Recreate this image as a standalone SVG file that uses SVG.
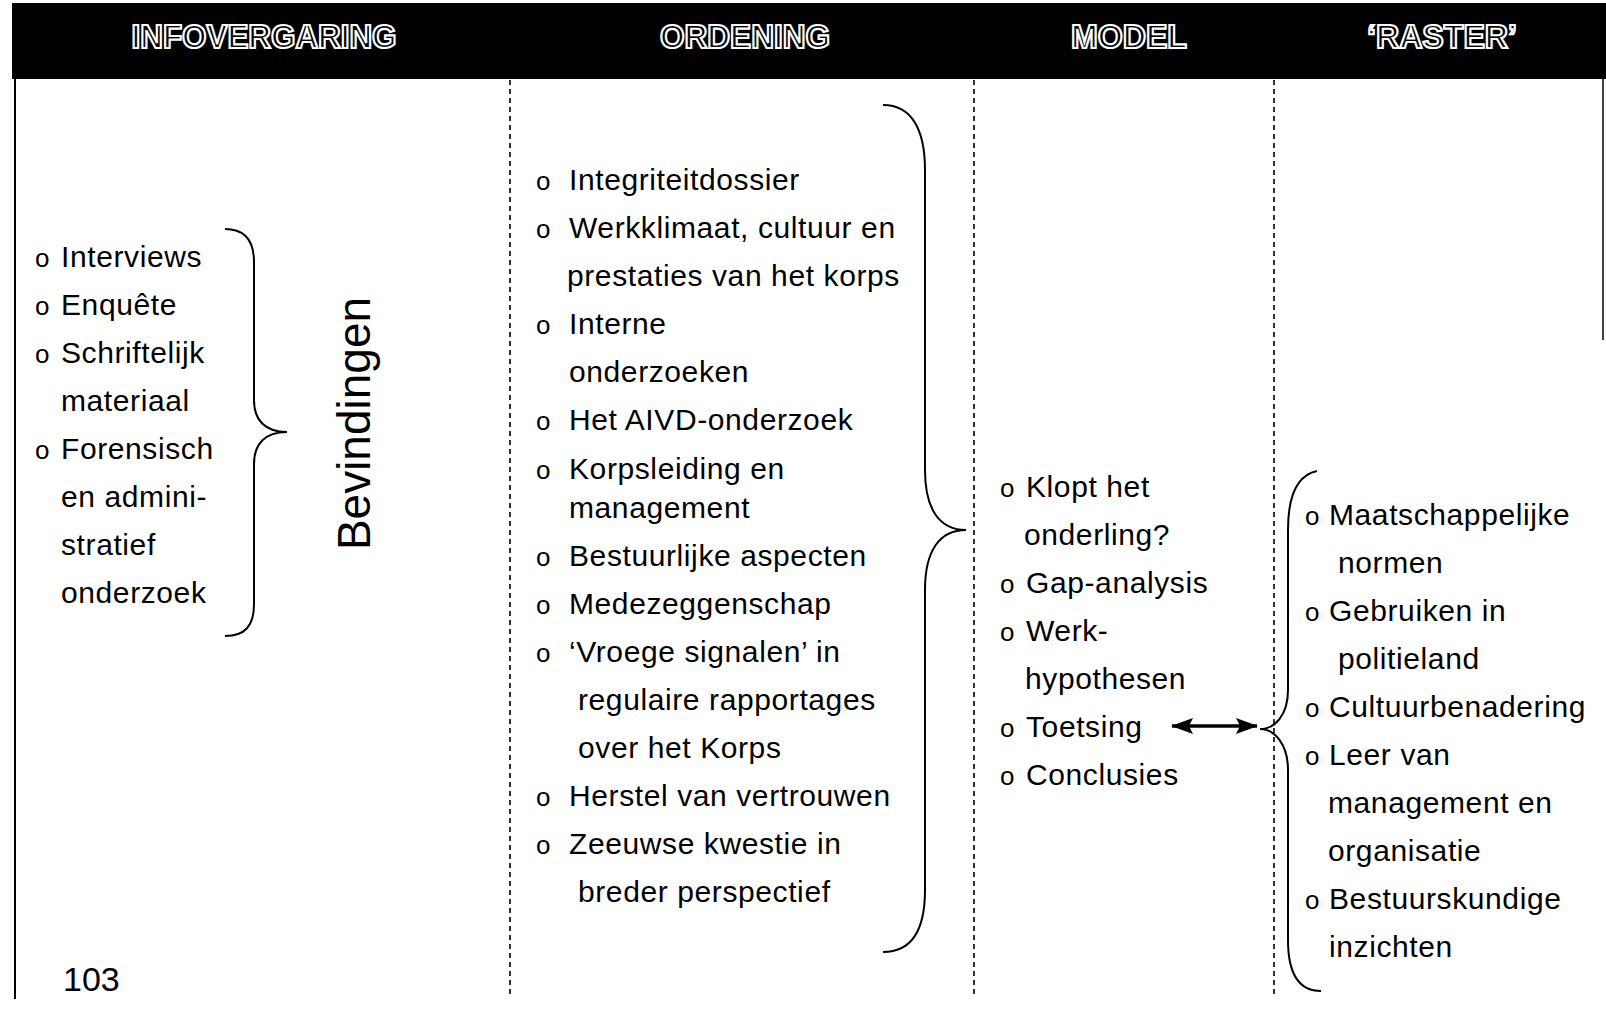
<svg xmlns="http://www.w3.org/2000/svg" width="1606" height="1029" viewBox="0 0 1606 1029">
<style>
.hd{font-family:"Liberation Sans",Arial,sans-serif;font-weight:bold;font-size:33px;fill:#000;stroke:#fff;stroke-width:2.2px;text-anchor:middle}
.t{font-family:"Liberation Sans",Arial,sans-serif;font-size:30px;letter-spacing:0.6px;fill:#000}
.b{font-family:"Liberation Sans",Arial,sans-serif;font-size:26px;fill:#000}
.br{fill:none;stroke:#000;stroke-width:2}
.dl{stroke:#000;stroke-width:1.6;stroke-dasharray:5 4}
</style>
<defs>
<marker id="ah" viewBox="0 0 22 16" refX="21" refY="8" markerWidth="22" markerHeight="16" orient="auto-start-reverse" markerUnits="userSpaceOnUse">
<path d="M0,0 L22,8 L0,16 L4,8 Z" fill="#000"/>
</marker>
</defs>
<rect width="1606" height="1029" fill="#fff"/>
<g id="header">
<rect x="12" y="3" width="1594" height="76" fill="#000"/>
<text class="hd" x="264" y="48" textLength="265" lengthAdjust="spacingAndGlyphs">INFOVERGARING</text>
<text class="hd" x="745" y="48" textLength="170" lengthAdjust="spacingAndGlyphs">ORDENING</text>
<text class="hd" x="1129" y="48" textLength="116" lengthAdjust="spacingAndGlyphs">MODEL</text>
<text class="hd" x="1442" y="48" textLength="150" lengthAdjust="spacingAndGlyphs">‘RASTER’</text>
</g>
<g id="frame">
<line x1="15" y1="79" x2="15" y2="999" stroke="#000" stroke-width="2"/>
<line x1="1603" y1="79" x2="1603" y2="340" stroke="#000" stroke-width="1.5"/>
<line class="dl" x1="510" y1="80" x2="510" y2="994"/>
<line class="dl" x1="974" y1="80" x2="974" y2="994"/>
<line class="dl" x1="1274" y1="80" x2="1274" y2="994"/>
<text class="t" x="63" y="991" style="font-size:34px;letter-spacing:0">103</text>
</g>
<g id="infovergaring">
<text class="b" x="35" y="267">o</text><text class="t" x="61" y="267">Interviews</text>
<text class="b" x="35" y="315">o</text><text class="t" x="61" y="315">Enquête</text>
<text class="b" x="35" y="363">o</text><text class="t" x="61" y="363">Schriftelijk</text>
<text class="t" x="61" y="411">materiaal</text>
<text class="b" x="35" y="459">o</text><text class="t" x="61" y="459">Forensisch</text>
<text class="t" x="61" y="507">en admini-</text>
<text class="t" x="61" y="555">stratief</text>
<text class="t" x="61" y="603">onderzoek</text>
</g>
<g id="bevindingen">
<text class="t" x="370" y="423.5" transform="rotate(-90 370 423.5)" text-anchor="middle" style="font-size:46px;letter-spacing:0">Bevindingen</text>
</g>
<g id="ordening">
<text class="b" x="536" y="190">o</text><text class="t" x="569" y="190">Integriteitdossier</text>
<text class="b" x="536" y="238">o</text><text class="t" x="569" y="238">Werkklimaat, cultuur en</text>
<text class="t" x="567" y="286">prestaties van het korps</text>
<text class="b" x="536" y="334">o</text><text class="t" x="569" y="334">Interne</text>
<text class="t" x="569" y="382">onderzoeken</text>
<text class="b" x="536" y="430">o</text><text class="t" x="569" y="430">Het AIVD-onderzoek</text>
<text class="b" x="536" y="479">o</text><text class="t" x="569" y="479">Korpsleiding en</text>
<text class="t" x="569" y="518">management</text>
<text class="b" x="536" y="566">o</text><text class="t" x="569" y="566">Bestuurlijke aspecten</text>
<text class="b" x="536" y="614">o</text><text class="t" x="569" y="614">Medezeggenschap</text>
<text class="b" x="536" y="662">o</text><text class="t" x="569" y="662">‘Vroege signalen’ in</text>
<text class="t" x="578" y="710">regulaire rapportages</text>
<text class="t" x="578" y="758">over het Korps</text>
<text class="b" x="536" y="806">o</text><text class="t" x="569" y="806">Herstel van vertrouwen</text>
<text class="b" x="536" y="854">o</text><text class="t" x="569" y="854">Zeeuwse kwestie in</text>
<text class="t" x="578" y="902">breder perspectief</text>
</g>
<g id="model">
<text class="b" x="1000" y="497">o</text><text class="t" x="1026" y="497">Klopt het</text>
<text class="t" x="1024" y="545">onderling?</text>
<text class="b" x="1000" y="593">o</text><text class="t" x="1026" y="593">Gap-analysis</text>
<text class="b" x="1000" y="641">o</text><text class="t" x="1026" y="641">Werk-</text>
<text class="t" x="1025" y="689">hypothesen</text>
<text class="b" x="1000" y="737">o</text><text class="t" x="1026" y="737">Toetsing</text>
<text class="b" x="1000" y="785">o</text><text class="t" x="1026" y="785">Conclusies</text>
</g>
<g id="raster">
<text class="b" x="1305" y="525">o</text><text class="t" x="1329" y="525">Maatschappelijke</text>
<text class="t" x="1338" y="573">normen</text>
<text class="b" x="1305" y="621">o</text><text class="t" x="1329" y="621">Gebruiken in</text>
<text class="t" x="1338" y="669">politieland</text>
<text class="b" x="1305" y="717">o</text><text class="t" x="1329" y="717">Cultuurbenadering</text>
<text class="b" x="1305" y="765">o</text><text class="t" x="1329" y="765">Leer van</text>
<text class="t" x="1328" y="813">management en</text>
<text class="t" x="1328" y="861">organisatie</text>
<text class="b" x="1305" y="909">o</text><text class="t" x="1329" y="909">Bestuurskundige</text>
<text class="t" x="1329" y="957">inzichten</text>
</g>
<g id="connectors">
<path class="br" d="M225,229 C245,229 254,240 254,262 L254,400 C254,420 265,432 287,432 C265,432 254,444 254,464 L254,604 C254,626 245,636 225,636"/>
<path class="br" d="M883,105 C912,105 925,130 925,170 L925,470 C925,510 940,530 966,530 C940,530 925,550 925,590 L925,890 C925,930 912,952 883,952"/>
<path class="br" d="M1317,471 C1298,475 1288,495 1288,530 L1288,690 C1288,715 1275,729 1260,729 C1275,729 1288,745 1288,770 L1288,940 C1288,975 1300,991 1321,991"/>
<line x1="1172" y1="726" x2="1257" y2="726" stroke="#000" stroke-width="3.5" marker-start="url(#ah)" marker-end="url(#ah)"/>
</g>
</svg>
